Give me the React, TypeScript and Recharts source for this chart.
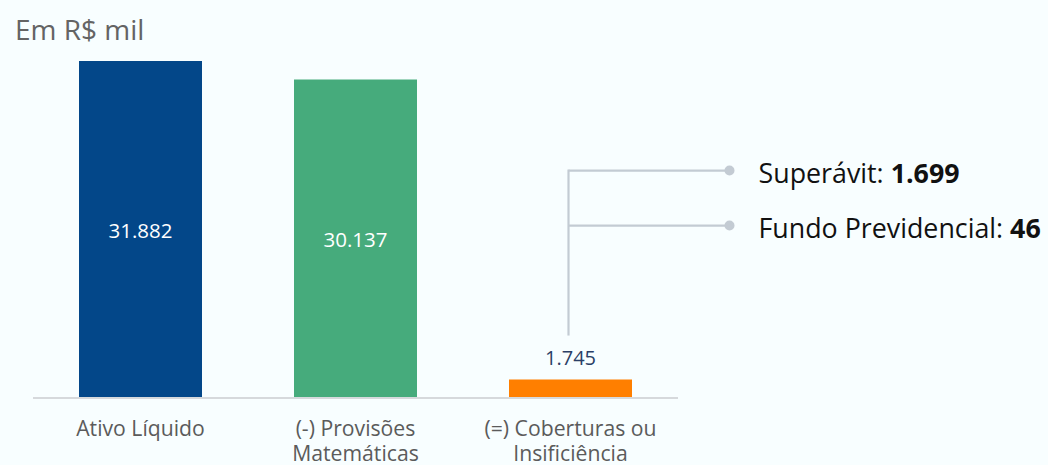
import React from "react";
import { BarChart, Bar, XAxis, YAxis, Cell, LabelList } from "recharts";

const categories = ["Ativo Líquido", "(-) Provisões\nMatemáticas", "(=) Coberturas ou\nInsificiência"];
const values = [31882, 30137, 1745];
const valueLabels = ["31.882", "30.137", "1.745"];
const colors = ["#034789", "#46AB7C", "#FF7F00"];
const annotationNames = ["Superávit: ", "Fundo Previdencial: "];
const annotationValues = ["1.699", "46"];
const unitTitle = "Em R$ mil";

const data = categories.map((c, i) => ({ name: c, value: values[i], label: valueLabels[i] }));

const FONT = "'Open Sans', 'Noto Sans', sans-serif";

const Tick = (props: any) => {
  const { x, y, payload } = props;
  const lines = String(payload.value).split("\n");
  return (
    <g>
      {lines.map((l: string, i: number) => (
        <text key={i} x={x} y={y + 30 + i * 25} textAnchor="middle" fill="#5b5b5b" fontSize={21.2} fontFamily={FONT}>
          {l}
        </text>
      ))}
    </g>
  );
};

const ValueLabel = (props: any) => {
  const { x, y, width, height, index } = props;
  const cx = x + width / 2;
  if (index < 2) {
    return (
      <text x={cx} y={y + height / 2 + 8} textAnchor="middle" fill="#ffffff" fontSize={20.5} fontFamily={FONT}>
        {valueLabels[index]}
      </text>
    );
  }
  const vx = cx - 2;
  const topY = y - 209;
  const rows = [topY, topY + 55];
  return (
    <g>
      <text x={cx} y={y - 15} textAnchor="middle" fill="#2b3f66" fontSize={20} fontFamily={FONT}>
        {valueLabels[index]}
      </text>
      <line x1={vx} y1={topY - 1} x2={vx} y2={y - 44} stroke="#c3cbd3" strokeWidth={2.2} />
      {rows.map((ry, i) => (
        <g key={i}>
          <line x1={vx} y1={ry} x2={vx + 161} y2={ry} stroke="#c3cbd3" strokeWidth={2.2} />
          <circle cx={vx + 161} cy={ry} r={5} fill="#c3cbd3" />
          <text x={vx + 190} y={ry + 12.5} fill="#111111" fontSize={26.8} fontFamily={FONT}>
            {annotationNames[i]}
            <tspan fontWeight="bold">{annotationValues[i]}</tspan>
          </text>
        </g>
      ))}
    </g>
  );
};

export default function App() {
  return (
    <div style={{ position: "absolute", left: 0, top: 0, width: 1048, height: 465, background: "#F8FEFF", fontFamily: FONT }}>
      <BarChart width={1048} height={465} data={data} margin={{ top: 61, right: 370, bottom: 0, left: 33 }} barCategoryGap={46}>
        <XAxis dataKey="name" axisLine={{ stroke: "#d6d9dc", strokeWidth: 2 }} tickLine={false} tick={<Tick />} height={67} interval={0} />
        <YAxis hide domain={[0, 31882]} />
        <Bar dataKey="value" isAnimationActive={false}>
          {data.map((d, i) => (
            <Cell key={i} fill={colors[i]} />
          ))}
          <LabelList dataKey="label" content={<ValueLabel />} />
        </Bar>
      </BarChart>
      <svg width={300} height={60} style={{ position: "absolute", left: 0, top: 0 }}>
        <text x={15} y={39.5} fill="#646464" fontSize={28} fontFamily={FONT}>
          {unitTitle}
        </text>
      </svg>
    </div>
  );
}
